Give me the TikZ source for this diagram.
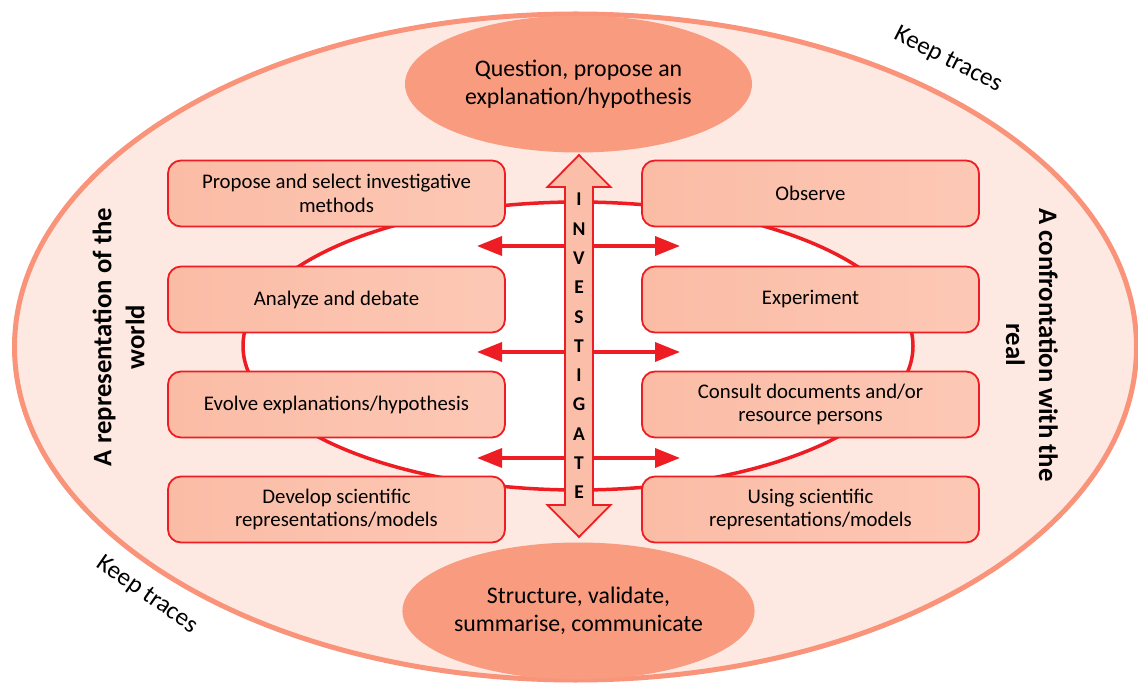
\documentclass[tikz,border=0pt]{standalone}
\usepackage{fontspec}
\setmainfont{Carlito}
\usetikzlibrary{shapes.geometric,arrows.meta}
\definecolor{outerfill}{HTML}{FDE9E1}
\definecolor{outerline}{HTML}{F9937A}
\definecolor{ovalfill}{HTML}{F99B7E}
\definecolor{boxL}{HTML}{FBBCA5}
\definecolor{boxR}{HTML}{FCC8B5}
\definecolor{redline}{HTML}{EE1D23}
\definecolor{arrowfill}{HTML}{FBBFA9}
\begin{document}
\begin{tikzpicture}[x=1pt,y=-1pt,
  stepbox/.style={draw=redline, line width=1.8pt, rounded corners=13pt,
    left color=boxL, right color=boxR, minimum width=337pt, minimum height=66pt,
    align=center, font=\fontsize{20.8}{23.5}\selectfont, inner sep=2pt},
  bigoval/.style={ellipse, fill=ovalfill, minimum width=347pt, minimum height=137pt,
    align=center, font=\fontsize{23.8}{27.5}\selectfont, inner sep=0pt},
  sidetext/.style={align=center, font=\bfseries\fontsize{26.7}{33}\selectfont},
  tracetext/.style={font=\fontsize{25}{28}\selectfont},
  harrow/.style={draw=redline, line width=3.5pt, -{Triangle[length=25pt,width=19pt]}}]
\useasboundingbox (0,0) rectangle (1138,684);
% outer ellipse
\node[ellipse, draw=outerline, line width=5pt, fill=outerfill,
  minimum width=1122pt, minimum height=666pt, inner sep=0pt] (outer) at (575.5,347) {};
% inner ellipse
\node[ellipse, draw=redline, line width=3.5pt, fill=white,
  minimum width=670pt, minimum height=288pt, inner sep=0pt] (inner) at (578,346) {};
% horizontal arrows
\coordinate (c1) at (579,246); \coordinate (l1) at (477,246); \coordinate (r1) at (680,246);
\coordinate (c2) at (579,352); \coordinate (l2) at (477,352); \coordinate (r2) at (680,352);
\coordinate (c3) at (579,458); \coordinate (l3) at (477,458); \coordinate (r3) at (680,458);
\draw[harrow] (c1) -- (l1); \draw[harrow] (c1) -- (r1);
\draw[harrow] (c2) -- (l2); \draw[harrow] (c2) -- (r2);
\draw[harrow] (c3) -- (l3); \draw[harrow] (c3) -- (r3);
% vertical double arrow
\draw[draw=redline, line width=1.8pt, fill=arrowfill, line join=miter]
  (579,155) -- (610.5,187) -- (593,187) -- (593,505) -- (610.5,505) -- (579,537)
  -- (547.5,505) -- (565,505) -- (565,187) -- (547.5,187) -- cycle;
\node[align=center, font=\bfseries\fontsize{19.5}{29.3}\selectfont, inner sep=0pt] (inv) at (579,346)
  {I\\N\\V\\E\\S\\T\\I\\G\\A\\T\\E};
% top and bottom ovals
\node[bigoval] (question) at (578.5,84) {Question, propose an\\explanation/hypothesis};
\node[bigoval] (structure) at (578.5,611) {Structure, validate,\\summarise, communicate};
% boxes
\node[stepbox] (propose) at (336.5,193.5) {Propose and select investigative\\methods};
\node[stepbox] (analyze) at (336.5,299.5) {Analyze and debate};
\node[stepbox] (evolve) at (336.5,404.5) {Evolve explanations/hypothesis};
\node[stepbox] (develop) at (336.5,509.5) {Develop scientific\\representations/models};
\node[stepbox] (observe) at (810.5,193.5) {Observe};
\node[stepbox] (experiment) at (810.5,299.5) {Experiment};
\node[stepbox] (consult) at (810.5,404.5) {Consult documents and/or\\resource persons};
\node[stepbox] (using) at (810.5,509.5) {Using scientific\\representations/models};
% side texts
\node[sidetext, rotate=90] (world) at (118.5,337) {A representation of the\\world};
\node[sidetext, rotate=-90] (real) at (1032,345) {A confrontation with the\\real};
% keep traces
\node[tracetext, rotate=-27] (trace1) at (948,60) {Keep traces};
\node[tracetext, rotate=-35] (trace2) at (147,595) {Keep traces};
\end{tikzpicture}
\end{document}
